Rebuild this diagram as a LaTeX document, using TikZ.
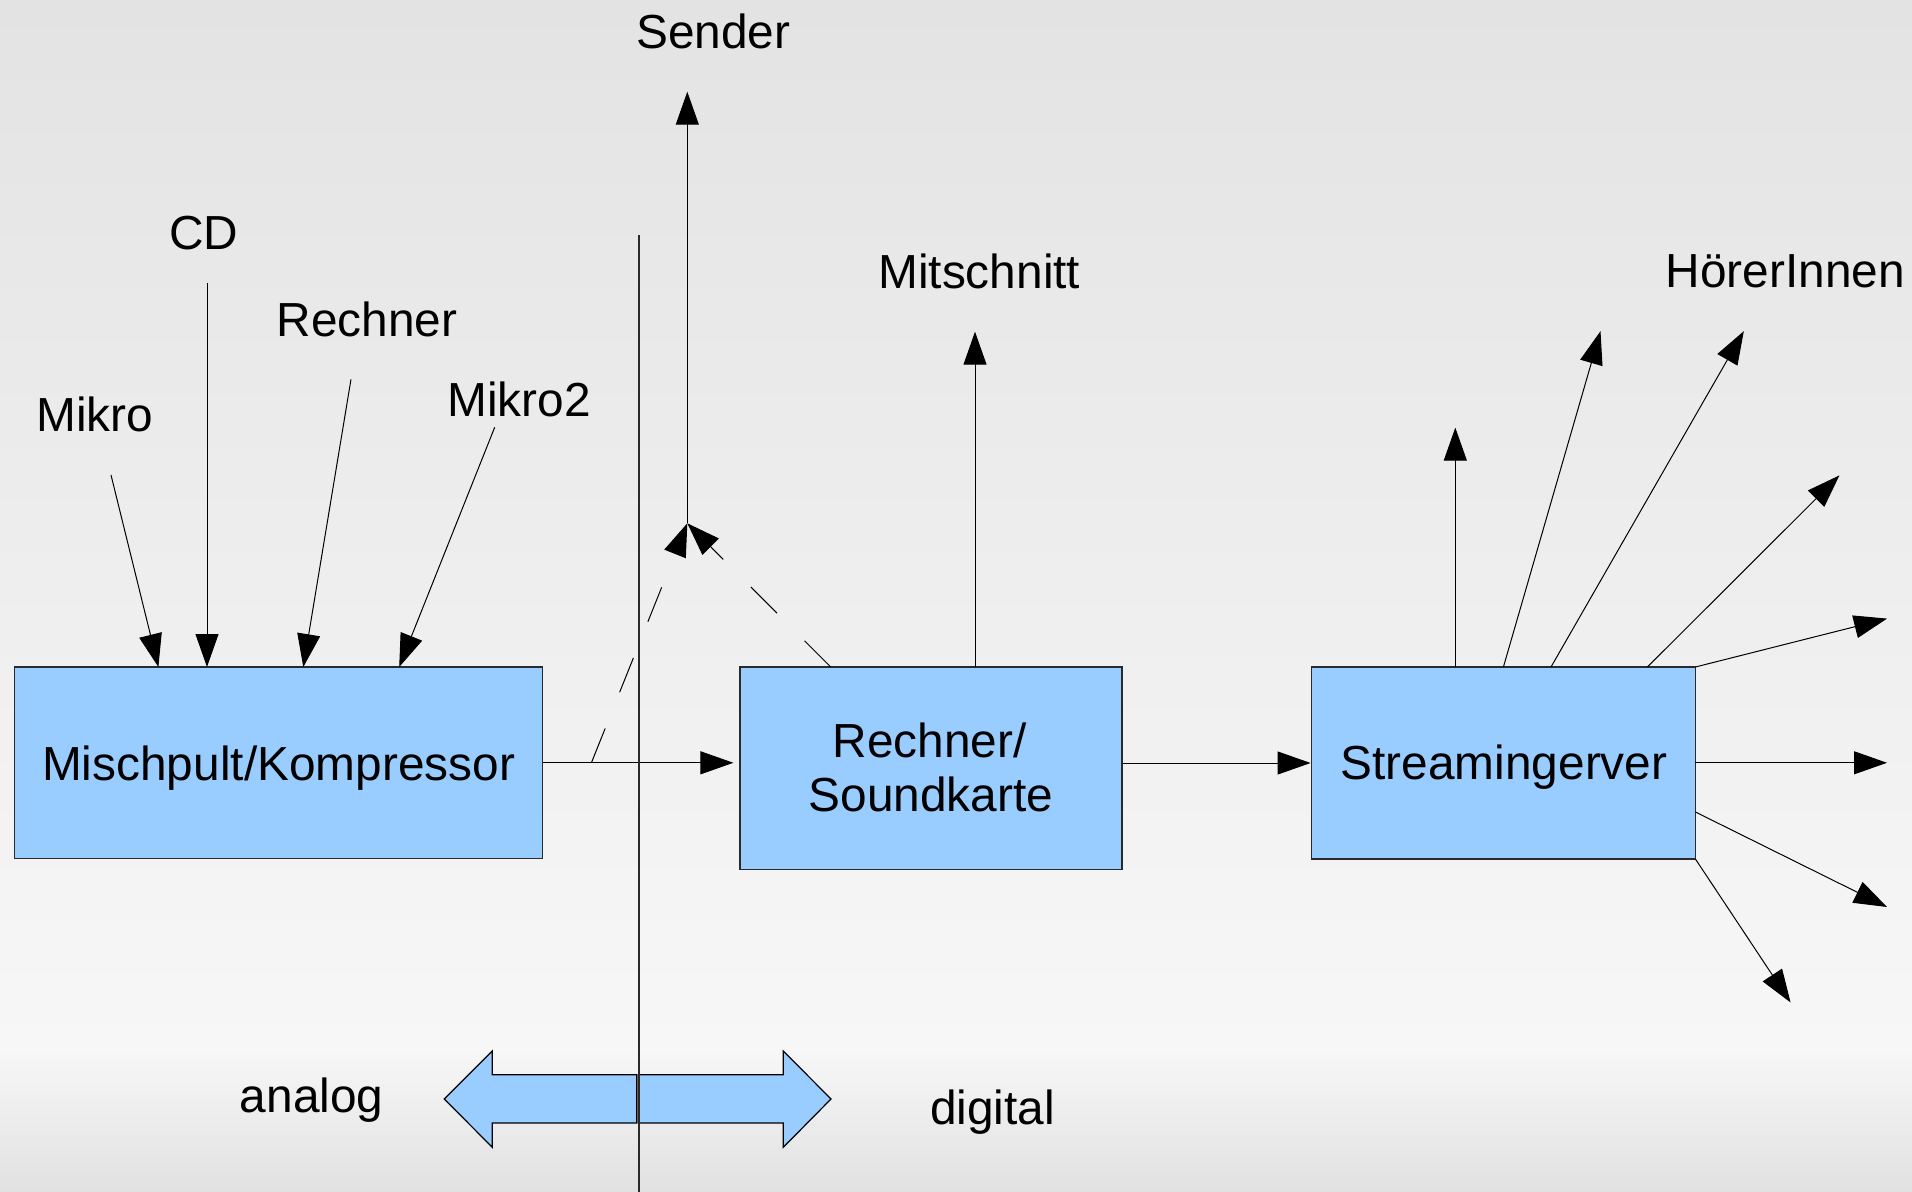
\documentclass[tikz,border=0pt]{standalone}
\usepackage{fontspec}
\setmainfont{Liberation Sans}
\usetikzlibrary{arrows.meta}
\definecolor{boxblue}{HTML}{99CCFF}
\definecolor{edge}{HTML}{2A2A2A}
\definecolor{bgtop}{HTML}{E3E3E3}
\definecolor{bgmid}{HTML}{F7F7F7}
\definecolor{bgbot}{HTML}{E1E1E1}
\begin{document}
\begin{tikzpicture}[x=0.5pt,y=-0.5pt,
  box/.style={draw=edge, line width=0.6pt, fill=boxblue, inner sep=0pt},
  lbl/.style={font=\fontsize{23.9}{27.2}\selectfont, inner sep=0pt, anchor=base},
  conn/.style={draw=black, line width=0.5pt, -{Triangle[length=16.5pt,width=11.5pt]}},
  dashconn/.style={conn, dash pattern=on 18.5pt off 19.5pt},
  blockarrow/.style={draw=black, line width=0.6pt, fill=boxblue, line join=miter}
]
% background
\useasboundingbox (0,0) rectangle (1912,1192);
\shade[top color=bgtop, bottom color=bgmid] (0,0) rectangle (1912,1050);
\shade[top color=bgmid, bottom color=bgbot] (0,1049) rectangle (1912,1192);

% main blocks
\node[box, minimum width=264pt, minimum height=95.75pt] (mix) at (278.6,762.8) {};
\node[box, minimum width=191pt, minimum height=101.2pt] (rs) at (931,768.2) {};
\node[box, minimum width=192pt, minimum height=96pt] (st) at (1503.2,763) {};

\node[lbl] (mixtxt) at (278.6,780) {Mischpult/Kompressor};
\node[lbl] (rstxta) at (929.6,757.3) {Rechner/};
\node[lbl] (rstxtb) at (931,811.7) {Soundkarte};
\node[lbl] (sttxt) at (1504,779.8) {Streamingerver};

% labels
\node[lbl] (sender) at (713.3,48.8) {Sender};
\node[lbl] (cd) at (204,250) {CD};
\node[lbl] (rechner) at (367,337) {Rechner};
\node[lbl] (mikro) at (94.7,432) {Mikro};
\node[lbl] (mikrob) at (519,417) {Mikro2};
\node[lbl] (mitschnitt) at (979.3,288.8) {Mitschnitt};
\node[lbl] (hoerer) at (1785.2,288) {HörerInnen};
\node[lbl] (analog) at (311.7,1112) {analog};
\node[lbl] (digital) at (992.6,1124) {digital};

% inputs of the mixing desk
\coordinate (srcA) at (111,475);
\coordinate (srcB) at (207,283.3);
\coordinate (srcC) at (351,379.3);
\coordinate (srcD) at (494.7,427.3);
\coordinate (inA) at (158.4,667);
\coordinate (inB) at (207,667);
\coordinate (inC) at (303.3,667);
\coordinate (inD) at (399.2,667);
\draw[conn] (srcA) -- (inA);
\draw[conn] (srcB) -- (inB);
\draw[conn] (srcC) -- (inC);
\draw[conn] (srcD) -- (inD);

% signal chain
\draw[conn, shorten >=3pt] (mix.east) -- (mix.east -| rs.west);
\draw[conn] (st.west -| rs.east) -- (st.west);

% transmitter feed
\coordinate (split) at (591.4,762.8);
\coordinate (merge) at (687.3,523.3);
\coordinate (rstop) at (830.7,667);
\coordinate (sendtip) at (687.3,91.7);
\draw[dashconn] (split) -- (merge);
\draw[dashconn] (rstop) -- (merge);
\draw[conn] (merge) -- (sendtip);

% recording
\coordinate (recfrom) at (975,667);
\coordinate (recto) at (975,331.7);
\draw[conn] (recfrom) -- (recto);

% listeners
\coordinate (oA) at (1455.3,667);   \coordinate (tA) at (1455.3,427.6);
\coordinate (oB) at (1503.4,667);   \coordinate (tB) at (1600.5,331.2);
\coordinate (oC) at (1551,667);     \coordinate (tC) at (1743.8,331.2);
\coordinate (oD) at (1647.4,667);   \coordinate (tD) at (1839.4,475.4);
\coordinate (oE) at (1695.4,667);   \coordinate (tE) at (1887,618.6);
\coordinate (oF) at (1695.4,762.8); \coordinate (tF) at (1887,762.8);
\coordinate (oG) at (1695.4,812);   \coordinate (tG) at (1887,907);
\coordinate (oH) at (1695.4,859);   \coordinate (tH) at (1790.6,1002.5);
\foreach \k in {A,B,C,D,E,F,G,H} \draw[conn] (o\k) -- (t\k);

% analog / digital block arrows
\draw[blockarrow] (444.3,1099) -- (492.3,1051) -- (492.3,1074.7) -- (636.7,1074.7)
  -- (636.7,1123) -- (492.3,1123) -- (492.3,1147.3) -- cycle;
\draw[blockarrow] (638.3,1074.7) -- (783.3,1074.7) -- (783.3,1051) -- (831,1099)
  -- (783.3,1147.3) -- (783.3,1123) -- (638.3,1123) -- cycle;

% analog/digital divider
\coordinate (divtop) at (639,235);
\coordinate (divbot) at (639,1192);
\draw[edge, line width=0.6pt] (divtop) -- (divbot);
\end{tikzpicture}
\end{document}
